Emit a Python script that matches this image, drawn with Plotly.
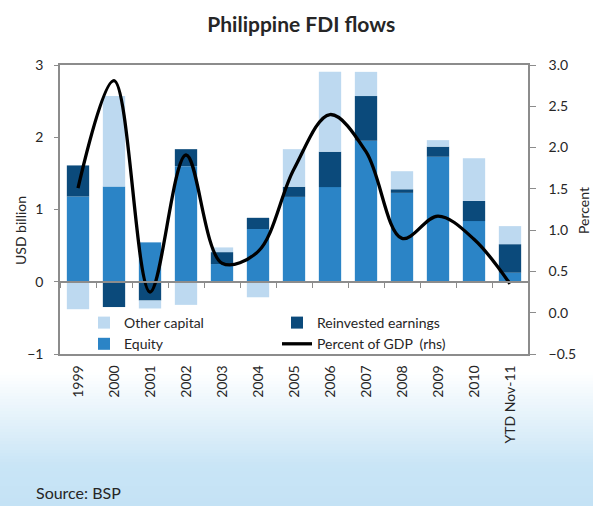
import plotly.graph_objects as go

categories = ["1999", "2000", "2001", "2002", "2003", "2004", "2005",
              "2006", "2007", "2008", "2009", "2010", "YTD Nov-11"]
equity = [1.18, 1.32, 0.545, 1.60, 0.245, 0.73, 1.175, 1.31, 1.95, 1.23, 1.73, 0.84, 0.125]
reinvested = [0.43, -0.35, -0.26, 0.235, 0.165, 0.155, 0.14, 0.49, 0.62, 0.05, 0.14, 0.28, 0.395]
other_capital = [-0.38, 1.25, -0.11, -0.32, 0.065, -0.215, 0.52, 1.105, 0.335, 0.25, 0.09, 0.59, 0.25]
pct_gdp = [1.51, 2.81, 0.25, 1.91, 0.60, 0.74, 1.74, 2.40, 1.95, 0.90, 1.17, 0.89, 0.35]

C_OTHER = "#bdd9f0"
C_EQUITY = "#2b84c6"
C_REINV = "#0b4a7b"
AXIS = "#8c8c8c"
TXT = "#262626"
FONT = "Lato"

# layout geometry (pixels)
W, H = 593, 506
ML, MR, MT, MB = 60, 65, 65, 152
PW, PH = W - ML - MR, H - MT - MB

fig = go.Figure()
fig.add_trace(go.Bar(x=categories, y=equity, name="Equity", marker_color=C_EQUITY,
                     marker_line_width=0, width=0.62, legendrank=3))
fig.add_trace(go.Bar(x=categories, y=reinvested, name="Reinvested earnings", marker_color=C_REINV,
                     marker_line_width=0, width=0.62, legendrank=2))
fig.add_trace(go.Bar(x=categories, y=other_capital, name="Other capital", marker_color=C_OTHER,
                     marker_line_width=0, width=0.62, legendrank=1))
# zero-line axis carrier
fig.add_trace(go.Scatter(x=categories, y=[0] * len(categories), xaxis="x2", yaxis="y",
                         mode="lines", line=dict(width=0, color="rgba(0,0,0,0)"),
                         showlegend=False, hoverinfo="skip"))
fig.add_trace(go.Scatter(x=categories, y=pct_gdp, name="Percent of GDP  (rhs)", yaxis="y2",
                         mode="lines", line=dict(color="black", width=3.3, shape="spline", smoothing=1.0),
                         legendrank=4))

# gradient background at bottom
def px_to_paper_y(py):
    return (H - MB - py) / PH

def px_to_paper_x(px):
    return (px - ML) / PW

shapes = []
g_top, g_mid, g_bot = 372, 465, H
c0 = (255, 255, 255)
c1 = (201, 229, 246)
c2 = (196, 226, 245)
step = 3
y = g_top
while y < g_bot:
    yc = y + step / 2
    if yc < g_mid:
        t = (yc - g_top) / (g_mid - g_top)
        c = tuple(round(c0[i] + (c1[i] - c0[i]) * t) for i in range(3))
    else:
        t = (yc - g_mid) / (g_bot - g_mid)
        c = tuple(round(c1[i] + (c2[i] - c1[i]) * t) for i in range(3))
    shapes.append(dict(type="rect", xref="paper", yref="paper",
                       x0=px_to_paper_x(-2), x1=px_to_paper_x(W + 2),
                       y0=px_to_paper_y(min(y + step + 0.5, g_bot + 2)), y1=px_to_paper_y(y),
                       fillcolor="rgb(%d,%d,%d)" % c, line_width=0, layer="below"))
    y += step

fig.update_layout(
    width=W, height=H,
    margin=dict(l=ML, r=MR, t=MT, b=MB, autoexpand=False),
    paper_bgcolor="white", plot_bgcolor="rgba(0,0,0,0)",
    barmode="relative",
    font=dict(family=FONT, size=14, color=TXT),
    title=dict(text="<b>Philippine FDI flows</b>", x=0.508, xanchor="center",
               xref="container", yref="container", y=0.952, yanchor="middle",
               font=dict(family=FONT, size=21, color=TXT)),
    shapes=shapes,
    showlegend=True,
    legend=dict(orientation="h", x=px_to_paper_x(84), xanchor="left",
                y=px_to_paper_y(307), yanchor="top",
                entrywidth=148, entrywidthmode="pixels",
                bgcolor="rgba(0,0,0,0)", font=dict(family=FONT, size=14, color=TXT),
                traceorder="normal", itemwidth=30),
    xaxis=dict(type="category", categoryarray=categories, categoryorder="array",
               range=[-0.5, len(categories) - 0.5], automargin=False,
               showline=True, linecolor=AXIS, linewidth=1.5, mirror=True,
               ticks="", tickangle=-90, showgrid=False, ticklabelstandoff=4,
               tickfont=dict(family=FONT, size=14, color=TXT)),
    xaxis2=dict(type="category", categoryarray=categories, categoryorder="array",
                range=[-0.5, len(categories) - 0.5], overlaying="x", anchor="free", position=0.25,
                automargin=False,
                showline=True, linecolor=AXIS, linewidth=1.5, ticks="outside", tickson="boundaries",
                ticklen=5, tickcolor=AXIS, showticklabels=False, showgrid=False),
    yaxis=dict(range=[-1, 3], dtick=1, tick0=0, showline=True, linecolor=AXIS, linewidth=1.5,
               automargin=False,
               ticks="outside", ticklen=4, tickcolor=AXIS, showgrid=False, zeroline=False,
               ticklabelstandoff=8, tickfont=dict(family=FONT, size=14, color=TXT)),
    yaxis2=dict(range=[-0.5, 3], dtick=0.5, tick0=0, tickformat=".1f", overlaying="y", side="right",
                automargin=False,
                showline=True, linecolor=AXIS, linewidth=1.5, ticks="outside", ticklen=6,
                tickcolor=AXIS, showgrid=False, zeroline=False, ticklabelstandoff=10,
                tickfont=dict(family=FONT, size=14, color=TXT)),
    annotations=[
        dict(text="USD billion", xref="paper", yref="paper", textangle=-90,
             x=px_to_paper_x(21), y=px_to_paper_y(231), xanchor="center", yanchor="middle",
             showarrow=False, font=dict(family=FONT, size=14, color=TXT)),
        dict(text="Percent", xref="paper", yref="paper", textangle=-90,
             x=px_to_paper_x(583), y=px_to_paper_y(211), xanchor="center", yanchor="middle",
             showarrow=False, font=dict(family=FONT, size=14, color=TXT)),
        dict(text="Source: BSP", xref="paper", yref="paper",
             x=px_to_paper_x(34), y=px_to_paper_y(492), xanchor="left", yanchor="middle",
             showarrow=False, font=dict(family=FONT, size=16, color=TXT)),
    ],
)

fig.write_html("out.html", config={"displayModeBar": False},
               post_script="document.body.style.margin='0';document.body.style.overflow='hidden';")
